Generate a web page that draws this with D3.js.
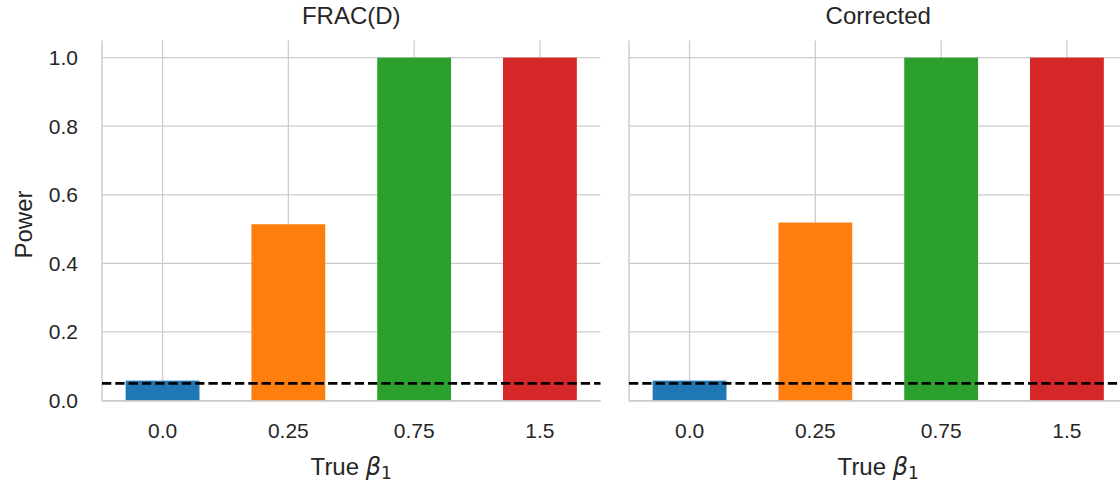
<!DOCTYPE html>
<html>
<head>
<meta charset="utf-8">
<script src="https://cdn.jsdelivr.net/npm/d3@7"></script>
<style>
  html, body { margin: 0; padding: 0; background: #fff; }
  svg text { font-family: "Liberation Sans", Arial, sans-serif; fill: #262626; }
</style>
</head>
<body>
<svg id="chart" width="1120" height="486"></svg>
<script>
const categories = ["0.0", "0.25", "0.75", "1.5"];
const fracPower = [0.058, 0.514, 1.0, 1.0];
const correctedPower = [0.058, 0.519, 1.0, 1.0];
const panelTitles = ["FRAC(D)", "Corrected"];
const yTicks = [0.0, 0.2, 0.4, 0.6, 0.8, 1.0];
const alphaLevel = 0.05;
const colors = ["#1f77b4", "#ff7f0e", "#2ca02c", "#d62728"];

const svg = d3.select("#chart");
const panelLeft = [102, 629];
const panelWidth = 498.5;
const plotTop = 40.5, plotBottom = 400.5;
const grid = "#cccccc";

const y = d3.scaleLinear().domain([0, 1.05]).range([plotBottom, plotTop]);

[fracPower, correctedPower].forEach((values, p) => {
  const x = d3.scaleBand()
    .domain(categories)
    .range([panelLeft[p], panelLeft[p] + panelWidth])
    .paddingInner(0.413)
    .paddingOuter(0.188);

  const g = svg.append("g");

  // grid
  g.append("g").selectAll("line")
    .data(yTicks)
    .join("line")
    .attr("x1", panelLeft[p]).attr("x2", panelLeft[p] + panelWidth)
    .attr("y1", d => y(d)).attr("y2", d => y(d))
    .attr("stroke", grid).attr("stroke-width", 1.25);
  g.append("g").selectAll("line")
    .data(categories)
    .join("line")
    .attr("x1", d => x(d) + x.bandwidth() / 2).attr("x2", d => x(d) + x.bandwidth() / 2)
    .attr("y1", plotTop).attr("y2", plotBottom)
    .attr("stroke", grid).attr("stroke-width", 1.25);

  // bars
  g.append("g").selectAll("rect")
    .data(values)
    .join("rect")
    .attr("x", (d, i) => x(categories[i]))
    .attr("width", x.bandwidth())
    .attr("y", d => y(d))
    .attr("height", d => y(0) - y(d))
    .attr("fill", (d, i) => colors[i]);

  // spines
  g.append("line")
    .attr("x1", panelLeft[p]).attr("x2", panelLeft[p])
    .attr("y1", plotTop).attr("y2", plotBottom + 0.6)
    .attr("stroke", grid).attr("stroke-width", 1.5);
  g.append("line")
    .attr("x1", panelLeft[p]).attr("x2", panelLeft[p] + panelWidth)
    .attr("y1", plotBottom + 0.6).attr("y2", plotBottom + 0.6)
    .attr("stroke", grid).attr("stroke-width", 1.5);

  // alpha line
  g.append("line")
    .attr("x1", panelLeft[p]).attr("x2", panelLeft[p] + panelWidth)
    .attr("y1", y(alphaLevel)).attr("y2", y(alphaLevel))
    .attr("stroke", "#000").attr("stroke-width", 2.8)
    .attr("stroke-dasharray", "9.3,4");

  // x tick labels
  g.append("g").selectAll("text")
    .data(categories)
    .join("text")
    .attr("x", d => x(d) + x.bandwidth() / 2)
    .attr("y", 438)
    .attr("text-anchor", "middle")
    .attr("font-size", 21)
    .text(d => d);

  // title
  const cx = panelLeft[p] + panelWidth / 2;
  g.append("text")
    .attr("x", cx).attr("y", 24)
    .attr("text-anchor", "middle")
    .attr("font-size", 24)
    .text(panelTitles[p]);

  // x label
  const xl = g.append("text")
    .attr("x", cx).attr("y", 475)
    .attr("text-anchor", "middle")
    .attr("font-size", 24);
  xl.append("tspan").text("True ");
  xl.append("tspan").attr("font-family", "DejaVu Sans").attr("font-style", "italic").text("β");
  xl.append("tspan").attr("font-family", "DejaVu Sans").attr("font-size", 17).attr("dy", 4).text("1");

  if (p === 0) {
    g.append("g").selectAll("text")
      .data(yTicks)
      .join("text")
      .attr("x", 78)
      .attr("y", d => y(d))
      .attr("dy", "0.35em")
      .attr("text-anchor", "end")
      .attr("font-size", 21)
      .text(d => d.toFixed(1));
    g.append("text")
      .attr("transform", `translate(31.5,${(plotTop + plotBottom) / 2 + 4}) rotate(-90)`)
      .attr("text-anchor", "middle")
      .attr("font-size", 24)
      .text("Power");
  }
});
</script>
</body>
</html>
